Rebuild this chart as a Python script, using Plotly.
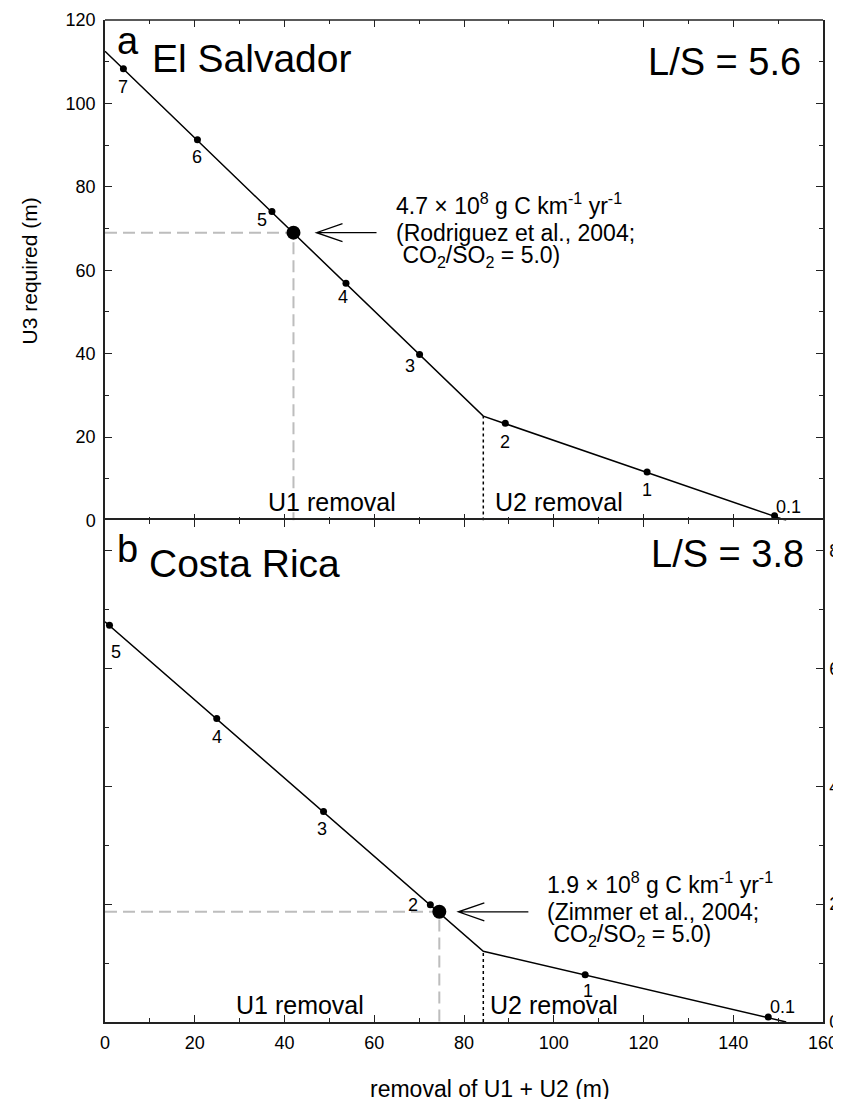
import plotly.graph_objects as go

# ---------------- data ----------------
# Panel a: El Salvador (L/S = 5.6)
es_line_x = [0.0, 84.3, 151.8]
es_line_y = [112.5, 25.0, 0.0]
es_pts_x = [4.1, 20.6, 37.2, 53.7, 70.1, 89.2, 120.8, 149.2]
es_pts_y = [108.3, 91.3, 74.1, 56.9, 39.8, 23.3, 11.6, 1.1]
es_pts_lbl = ["7", "6", "5", "4", "3", "2", "1", "0.1"]
es_obs_x = 42.0
es_obs_y = 69.0

# Panel b: Costa Rica (L/S = 3.8)
cr_line_x = [0.0, 84.3, 151.8]
cr_line_y = [67.9, 12.0, 0.0]
cr_pts_x = [1.0, 24.9, 48.7, 72.5, 107.0, 147.8]
cr_pts_y = [67.3, 51.5, 35.7, 19.9, 8.0, 0.85]
cr_pts_lbl = ["5", "4", "3", "2", "1", "0.1"]
cr_obs_x = 74.5
cr_obs_y = 18.7

es_note = ["4.7 × 10<sup>8</sup> g C km<sup>-1</sup> yr<sup>-1</sup>",
           "(Rodriguez et al., 2004;",
           "\u00a0CO<sub>2</sub>/SO<sub>2</sub> = 5.0)"]
cr_note = ["1.9 × 10<sup>8</sup> g C km<sup>-1</sup> yr<sup>-1</sup>",
           "(Zimmer et al., 2004;",
           "\u00a0CO<sub>2</sub>/SO<sub>2</sub> = 5.0)"]

x_range = [0, 160]
top_y_range = [0, 120]
bot_y_range = [0, 85.1]
x_ticks = [0, 20, 40, 60, 80, 100, 120, 140, 160]
top_y_ticks = [0, 20, 40, 60, 80, 100, 120]
bot_y_ticks = [0, 20, 40, 60, 80]

# ---------------- styling / geometry ----------------
OFF = 8                      # page body margin
W, H = 841 - OFF, 1099 - OFF  # figure size so that it fills the window
L, R, T, B = 105, 822.6, 19.5, 1021.7   # plot-area edges in window pixels
MID = 520
FONT = "Liberation Sans, Arial, Helvetica, sans-serif"
AX = "#222222"

xs = (R - L) / (x_range[1] - x_range[0])
ys_top = (MID - T) / (top_y_range[1] - top_y_range[0])
ys_bot = (B - MID) / (bot_y_range[1] - bot_y_range[0])
split = (B - MID) / (B - T)


def pxx(xp):
    return (xp - L) / (R - L)


def pyy(yp):
    return (B - yp) / (B - T)


fig = go.Figure()

panels = [
    dict(xr="x", yr="y", lx=es_line_x, ly=es_line_y, px_=es_pts_x, py_=es_pts_y,
         lbl=es_pts_lbl, ox=es_obs_x, oy=es_obs_y, ys=ys_top,
         dx=[0, 0, -10, -3, -10, 0, 0, 14], dy=[-18, -17, -9, -14, -12, -19, -18, 9],
         gap=23, shaft=60, txt=100, note=es_note),
    dict(xr="x2", yr="y2", lx=cr_line_x, ly=cr_line_y, px_=cr_pts_x, py_=cr_pts_y,
         lbl=cr_pts_lbl, ox=cr_obs_x, oy=cr_obs_y, ys=ys_bot,
         dx=[7, 0, -2, -17, 3, 14], dy=[-27, -19, -17, 0, -16, 10],
         gap=19, shaft=70, txt=106, note=cr_note),
]
note_dy = [29, 0, -24]

annotations = []
shapes = []

for p in panels:
    # dashed guide lines to the observed flux point
    fig.add_trace(go.Scatter(x=[0, p["ox"], p["ox"]], y=[p["oy"], p["oy"], 0],
                             mode="lines", line=dict(color="#bdbdbd", width=2, dash="12px,6px"),
                             xaxis=p["xr"], yaxis=p["yr"], hoverinfo="skip", showlegend=False))
    # dotted vertical at the kink (U1/U2 boundary)
    fig.add_trace(go.Scatter(x=[p["lx"][1], p["lx"][1]], y=[0, p["ly"][1]],
                             mode="lines", line=dict(color="black", width=1.5, dash="dot"),
                             xaxis=p["xr"], yaxis=p["yr"], hoverinfo="skip", showlegend=False))
    # model line
    fig.add_trace(go.Scatter(x=p["lx"], y=p["ly"], mode="lines",
                             line=dict(color="black", width=1.5),
                             xaxis=p["xr"], yaxis=p["yr"], showlegend=False))
    # labelled points
    fig.add_trace(go.Scatter(x=p["px_"], y=p["py_"], mode="markers",
                             marker=dict(color="black", size=7),
                             xaxis=p["xr"], yaxis=p["yr"], showlegend=False))
    # observed point
    fig.add_trace(go.Scatter(x=[p["ox"]], y=[p["oy"]], mode="markers",
                             marker=dict(color="black", size=14),
                             xaxis=p["xr"], yaxis=p["yr"], showlegend=False))
    for xv, yv, t, dx, dy in zip(p["px_"], p["py_"], p["lbl"], p["dx"], p["dy"]):
        annotations.append(dict(x=xv, y=yv, xref=p["xr"], yref=p["yr"], text=t,
                                showarrow=False, xshift=dx, yshift=dy,
                                font=dict(size=18, family=FONT, color="black")))
    # arrow (open head) pointing at the observed point
    tip = p["ox"] + p["gap"] / xs
    tail = tip + p["shaft"] / xs
    hx = tip + 26 / xs
    hy = 9 / p["ys"]
    y0 = p["oy"]
    shapes.append(dict(type="path", xref=p["xr"], yref=p["yr"],
                       path=f"M{tail},{y0} L{tip},{y0} M{hx},{y0 + hy} L{tip},{y0} L{hx},{y0 - hy}",
                       line=dict(color="black", width=1.3)))
    for line_txt, dy in zip(p["note"], note_dy):
        annotations.append(dict(x=p["ox"] + p["txt"] / xs, y=y0, xref=p["xr"], yref=p["yr"],
                                text=line_txt, showarrow=False, xanchor="left", yanchor="middle",
                                align="left", yshift=dy,
                                font=dict(size=23, family=FONT, color="black")))

# top border of panel a (the x-axis line of panel a is drawn by panel b's mirrored axis)
shapes.append(dict(type="line", xref="paper", yref="paper", x0=0, x1=1, y0=1, y1=1,
                   line=dict(color=AX, width=1.5)))


# panel titles and labels (window pixel positions)
def add_text(text, xp, yp, size, xanchor="center", yanchor="middle", angle=0):
    annotations.append(dict(x=pxx(xp), y=pyy(yp), xref="paper", yref="paper", text=text,
                            showarrow=False, xanchor=xanchor, yanchor=yanchor, textangle=angle,
                            font=dict(size=size, family=FONT, color="black")))


add_text("a", 128, 41, 38)
add_text("El Salvador", 150, 58, 39, xanchor="left")
add_text("L/S = 5.6", 803, 62, 38, xanchor="right")
add_text("b", 127, 549, 38)
add_text("Costa Rica", 147, 563, 39, xanchor="left")
add_text("L/S = 3.8", 806, 554, 38, xanchor="right")
add_text("U1 removal", 332, 502, 25)
add_text("U2 removal", 559, 502, 25)
add_text("U1 removal", 300, 1005, 25)
add_text("U2 removal", 554, 1005, 25)
add_text("U3 required (m)", 29, 270, 21, angle=-90)
add_text("removal of U1 + U2 (m)", 490, 1089, 23)

tickfont = dict(size=18, family=FONT, color="black")
common = dict(showline=True, linecolor=AX, linewidth=1.5, mirror="ticks", ticks="inside",
              ticklen=7, tickwidth=1.2, tickcolor=AX, showgrid=False, zeroline=False,
              automargin=False, tickfont=tickfont, ticklabeloverflow="allow",
              minor=dict(ticks="inside", ticklen=4, tickwidth=1.2, tickcolor=AX, dtick=10, showgrid=False))

top_x = dict(common)
top_x["linecolor"] = "rgba(0,0,0,0)"

fig.update_layout(
    width=W, height=H,
    margin=dict(l=L - OFF, r=W - (R - OFF), t=T - OFF, b=H - (B - OFF), pad=0),
    paper_bgcolor="white", plot_bgcolor="white",
    showlegend=False,
    font=dict(family=FONT, color="black"),
    xaxis=dict(domain=[0, 1], range=x_range, anchor="y", tickvals=x_ticks,
               showticklabels=False, **top_x),
    yaxis=dict(domain=[split, 1], range=top_y_range, anchor="x", tickvals=top_y_ticks,
               side="left", ticklabelstandoff=4, **common),
    xaxis2=dict(domain=[0, 1], range=x_range, anchor="y2", tickvals=x_ticks,
                ticklabelstandoff=4, **common),
    yaxis2=dict(domain=[0, split], range=bot_y_range, anchor="x2", tickvals=bot_y_ticks,
                side="right", ticklabelstandoff=1, **common),
    annotations=annotations,
    shapes=shapes,
)

fig.write_html("out.html")
